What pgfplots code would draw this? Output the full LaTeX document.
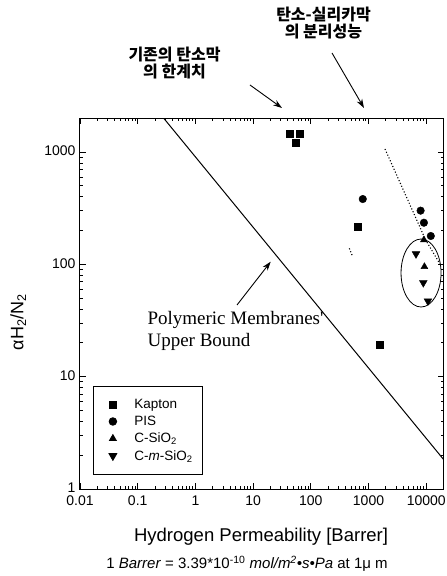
\documentclass[border=0pt]{standalone}
\usepackage{fontspec}
\setmainfont{Liberation Sans}
\newfontfamily\seriffont{Liberation Serif}
\newfontfamily\krfont{Noto Sans CJK KR}
\usepackage{pgfplots}
\pgfplotsset{compat=1.18}
\usetikzlibrary{arrows.meta}

\begin{document}
\begin{tikzpicture}[x=1pt,y=1pt]
\useasboundingbox (0,0) rectangle (447,576);
\begin{axis}[
  at={(80pt,87pt)}, anchor=south west, scale only axis,
  width=363.6pt, height=370.7pt,
  xmode=log, ymode=log,
  xmin=0.01, xmax=20000, ymin=1, ymax=2000,
  xtick={0.01,0.1,1,10,100,1000,10000},
  xticklabels={0.01,0.1,1,10,100,1000,10000},
  ytick={1,10,100,1000},
  yticklabels={1,10,100,1000},
  xticklabel style={font=\fontsize{14}{16}\selectfont, yshift=-3.5pt},
  yticklabel style={font=\fontsize{14}{16}\selectfont, xshift=-1pt, yshift=1pt},
  /pgf/number format/assume math mode=true,
  major tick length=6pt, minor tick length=3pt,
  axis line style={line width=1pt},
  every tick/.style={black, line width=0.8pt},
  xlabel={Hydrogen Permeability [Barrer]},
  ylabel={αH\textsubscript{2}/N\textsubscript{2}},
  xlabel style={font=\fontsize{18.5}{20}\selectfont, at={(axis description cs:0.498,-0.13)}, anchor=center},
  ylabel style={font=\fontsize{18}{20}\selectfont, at={(axis description cs:-0.17,0.45)}, anchor=center},
  legend style={at={(axis description cs:0.036,0.038)}, anchor=south west,
    font=\fontsize{13.5}{15}\selectfont, draw=black, line width=0.8pt,
    inner xsep=9pt, inner ysep=12pt, row sep=4pt, column sep=11pt,
    nodes={inner sep=1pt}},
  legend image code/.code={\path (0pt,0pt) (19pt,0pt); \draw[mark repeat=2,mark phase=2,#1] plot coordinates {(0pt,0pt)(10pt,0pt)(20pt,0pt)};},
  legend cell align=left,
  mark options={solid},
]
\addplot[only marks, mark=square*, mark size=3.5pt, black] coordinates {
  (43,1449) (65,1449) (54,1205) (650,217) (1540,19.4)};
\addlegendentry{Kapton}
\addplot[only marks, mark=*, mark size=3.8pt, black] coordinates {
  (795,382) (7990,301) (9120,235) (12000,179)};
\addlegendentry{PIS}
\addplot[only marks, mark=triangle*, mark size=4pt, black] coordinates {
  (9300,95.4) (9100,165)};
\addlegendentry{C-SiO\textsubscript{2}}
\addplot[only marks, mark=triangle*, mark options={rotate=180}, mark size=4.5pt, black] coordinates {
  (6650,124) (8900,68.7) (10700,47.2)};
\addlegendentry{C-\textit{m}-SiO\textsubscript{2}}
\addplot[black, line width=1pt, forget plot] coordinates {(0.283,2000) (20000,1.83)};
\addplot[black, dotted, line width=1.1pt, forget plot] coordinates {(1930,1066) (9770,165) (17300,101)};
\addplot[black, dotted, line width=1.1pt, forget plot] coordinates {(465,139) (532,117)};
\draw[line width=0.8pt] (axis cs:8130,83.8) ellipse [x radius=20pt, y radius=34pt];
\end{axis}
\draw[line width=0.9pt, -{Stealth[length=9pt,width=6pt]}] (237,271) -- (270.7,314.3);
\draw[line width=0.9pt, -{Stealth[length=9pt,width=6pt]}] (250,491) -- (282,468);
\draw[line width=0.9pt, -{Stealth[length=9pt,width=6pt]}] (332,523) -- (364,468);
\node[anchor=west, align=left, font=\seriffont\fontsize{19}{22}\selectfont] at (144,245) {Polymeric Membranes'\\Upper Bound};
\node[align=center, font=\krfont\bfseries\fontsize{16}{17}\selectfont] at (174.5,512.5) {기존의 탄소막\\의 한계치};
\node[align=center, font=\krfont\bfseries\fontsize{16}{17}\selectfont] at (323.5,552.5) {탄소-실리카막\\의 분리성능};
\node[font=\fontsize{15}{16}\selectfont] at (247,12) {1 \textit{Barrer} = 3.39*10\textsuperscript{-10} \textit{mol/m\textsuperscript{2}•s•Pa} at 1μ m};
\end{tikzpicture}
\end{document}
